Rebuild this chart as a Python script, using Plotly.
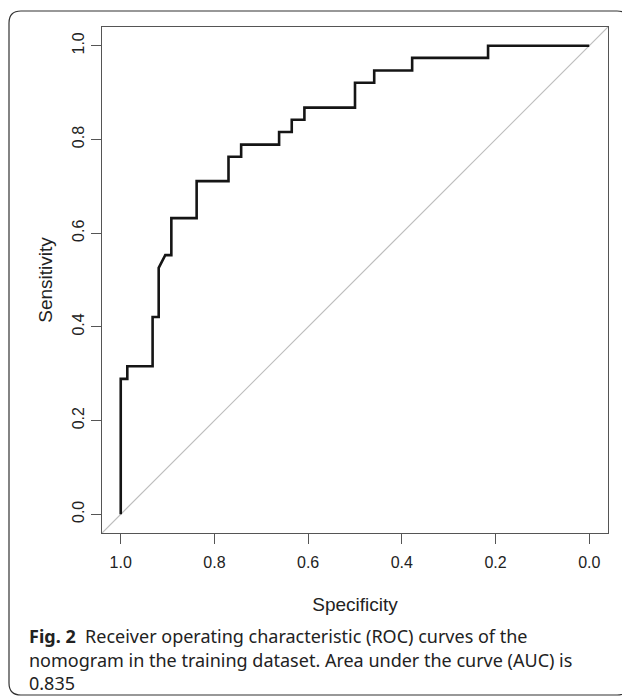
import plotly.graph_objects as go

# ROC curve vertices (specificity, sensitivity)
specificity = [1.000, 1.000, 0.986, 0.986, 0.932, 0.932, 0.919, 0.919, 0.905, 0.892,
               0.892, 0.838, 0.838, 0.770, 0.770, 0.743, 0.743, 0.662, 0.662, 0.635,
               0.635, 0.608, 0.608, 0.500, 0.500, 0.459, 0.459, 0.378, 0.378, 0.216,
               0.216, 0.000]
sensitivity = [0.000, 0.289, 0.289, 0.316, 0.316, 0.421, 0.421, 0.526, 0.553, 0.553,
               0.632, 0.632, 0.711, 0.711, 0.763, 0.763, 0.789, 0.789, 0.816, 0.816,
               0.842, 0.842, 0.868, 0.868, 0.921, 0.921, 0.947, 0.947, 0.974, 0.974,
               1.000, 1.000]

tick_vals = [1.0, 0.8, 0.6, 0.4, 0.2, 0.0]
tick_text = ["1.0", "0.8", "0.6", "0.4", "0.2", "0.0"]
x_range = [1.04, -0.04]
y_range = [-0.04, 1.04]

caption_lines = [
    "<b>Fig. 2</b>  Receiver operating characteristic (ROC) curves of the",
    "nomogram in the training dataset. Area under the curve (AUC) is",
    "0.835",
]

# the page places the figure 8px in from the top-left corner
OFF = 8
W, H = 630 - OFF, 697 - OFF
ML, MR, MT, MB = 102 - OFF, 22, 27 - OFF, 164
PW, PH = W - ML - MR, H - MT - MB


def px(x):
    return (x - OFF - ML) / PW


def py(y):
    return (H - MB - (y - OFF)) / PH


def rounded_rect(l, t, r, b, rad):
    return (f"M {px(l + rad)},{py(t)} L {px(r - rad)},{py(t)} "
            f"Q {px(r)},{py(t)} {px(r)},{py(t + rad)} "
            f"L {px(r)},{py(b - rad)} Q {px(r)},{py(b)} {px(r - rad)},{py(b)} "
            f"L {px(l + rad)},{py(b)} Q {px(l)},{py(b)} {px(l)},{py(b - rad)} "
            f"L {px(l)},{py(t + rad)} Q {px(l)},{py(t)} {px(l + rad)},{py(t)} Z")


fig = go.Figure()

fig.add_shape(type="line", xref="x", yref="y",
              x0=x_range[0], y0=y_range[0], x1=x_range[1], y1=y_range[1],
              line=dict(color="#BDBDBD", width=1.2), layer="below")

fig.add_trace(go.Scatter(x=specificity, y=sensitivity, mode="lines",
                         line=dict(color="#151515", width=2.6),
                         showlegend=False, hoverinfo="x+y"))

axis_font = dict(family="Liberation Sans, Arial, sans-serif", size=16, color="#222")
title_font = dict(family="Liberation Sans, Arial, sans-serif", size=19, color="#222")

fig.update_xaxes(range=x_range, tickvals=tick_vals, ticktext=tick_text,
                 ticks="outside", ticklen=10, tickcolor="#555", tickwidth=1.2,
                 showline=True, linecolor="#555", linewidth=1.3, mirror=True,
                 showgrid=False, zeroline=False, tickfont=axis_font,
                 ticklabelstandoff=5,
                 title=dict(text="Specificity", font=title_font, standoff=27))
fig.update_yaxes(range=y_range, tickvals=tick_vals, ticktext=tick_text,
                 ticks="outside", ticklen=10, tickcolor="#555", tickwidth=1.2,
                 showline=True, linecolor="#555", linewidth=1.3, mirror=True,
                 showgrid=False, zeroline=False, tickfont=axis_font,
                 tickangle=-90, ticklabelstandoff=0,
                 title=dict(text="Sensitivity", font=title_font, standoff=12))

fig.add_shape(type="path", xref="paper", yref="paper",
              path=rounded_rect(9, 11, 629, 695, 12),
              line=dict(color="#333", width=1.2), fillcolor="rgba(0,0,0,0)")

cap_font = dict(family="Noto Sans, Open Sans, sans-serif", size=18, color="#222")
for i, line in enumerate(caption_lines):
    fig.add_annotation(text=line, xref="paper", yref="paper",
                       x=px(27), y=py(636 + i * 23.5), xanchor="left", yanchor="middle",
                       showarrow=False, font=cap_font, align="left")

fig.update_layout(width=W, height=H, margin=dict(l=ML, r=MR, t=MT, b=MB),
                  plot_bgcolor="white", paper_bgcolor="white")

fig.write_html("out.html")
